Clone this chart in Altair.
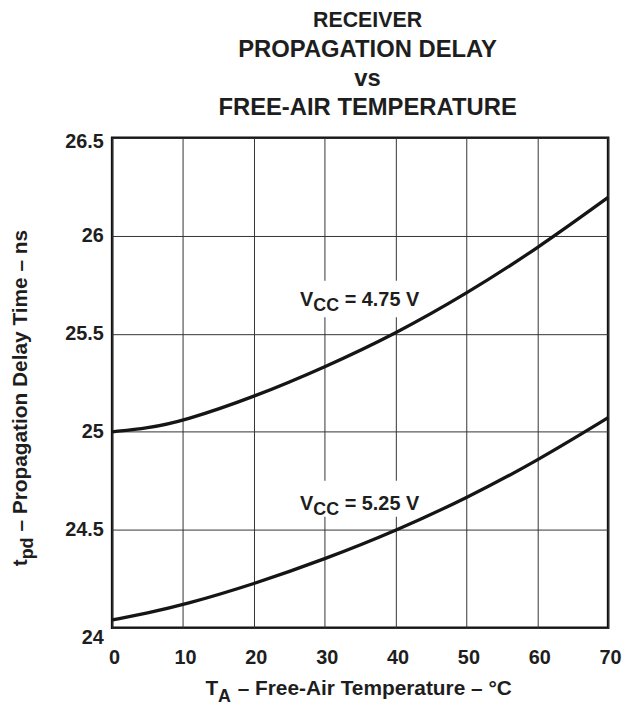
import altair as alt
import pandas as pd

# ---- data ----
temps = [0, 5, 10, 20, 30, 40, 50, 60, 70]
delay_475 = [25.00, 25.018, 25.054, 25.177, 25.329, 25.50, 25.704, 25.935, 26.196]
delay_525 = [24.04, 24.076, 24.116, 24.223, 24.35, 24.494, 24.661, 24.852, 25.072]
series_names = ["4.75", "5.25"]

x_ticks = [0, 10, 20, 30, 40, 50, 60, 70]
y_ticks = [24, 24.5, 25, 25.5, 26, 26.5]

# annotation anchors (data units)
ann_x = [26.5, 26.5]
ann_y = [25.64, 24.602]
box_x1 = [25.6, 25.6]
box_x2 = [44.7, 44.7]
box_y1 = [25.584, 24.567]
box_y2 = [25.77, 24.75]

rows = []
for t, a, b in zip(temps, delay_475, delay_525):
    rows.append({"temp": t, "delay": a, "vcc": series_names[0]})
    rows.append({"temp": t, "delay": b, "vcc": series_names[1]})
df = pd.DataFrame(rows)

ann = pd.DataFrame({"x": ann_x, "y": ann_y, "vcc": series_names,
                    "x1": box_x1, "x2": box_x2, "y1": box_y1, "y2": box_y2})
ann["rest"] = "= " + ann["vcc"] + " V"

FONT = "Liberation Sans"
TXT = "#1e1e1e"
F_TICK = 20
F_AX = 21
F_SUB = 18
F_ANN = 20
F_ANN_SUB = 18

xs = alt.Scale(domain=[0, 70], nice=False, zero=False)
ys = alt.Scale(domain=[24, 26.5], nice=False, zero=False)

x_axis = alt.Axis(values=x_ticks, title=None, grid=True, ticks=False, domain=False,
                  labelFont=FONT, labelFontSize=F_TICK, labelFontWeight="bold",
                  labelColor=TXT, labelPadding=20, labelFlush=False, labelOffset=2,
                  gridColor="#333333", gridWidth=1, gridOpacity=1)
y_axis = alt.Axis(values=y_ticks, title=None, grid=True, ticks=False, domain=False,
                  labelFont=FONT, labelFontSize=F_TICK, labelFontWeight="bold",
                  labelColor=TXT, labelPadding=9,
                  labelExpr="toString(datum.value)",
                  labelBaseline=alt.condition("datum.value == 24", alt.value("top"), alt.value("middle")),
                  labelOffset=alt.condition("datum.value == 26.5", alt.value(4), alt.value(0)),
                  gridColor="#333333", gridWidth=1, gridOpacity=1)

base = alt.Chart(df)

lines = base.mark_line(interpolate="basis", strokeWidth=3.3, color="#151515").encode(
    x=alt.X("temp:Q", scale=xs, axis=x_axis),
    y=alt.Y("delay:Q", scale=ys, axis=y_axis),
    detail="vcc:N",
)

annb = alt.Chart(ann)
boxes = annb.mark_rect(color="white").encode(
    x=alt.X("x1:Q", scale=xs), x2="x2:Q",
    y=alt.Y("y1:Q", scale=ys), y2="y2:Q",
)
t_v = annb.mark_text(text="V", align="left", baseline="alphabetic", font=FONT,
                     fontWeight="bold", fontSize=F_ANN, color=TXT).encode(
    x=alt.X("x:Q", scale=xs), y=alt.Y("y:Q", scale=ys))
t_cc = annb.mark_text(text="CC", align="left", baseline="alphabetic", font=FONT,
                      fontWeight="bold", fontSize=F_ANN_SUB, color=TXT, dx=13.5, dy=5).encode(
    x=alt.X("x:Q", scale=xs), y=alt.Y("y:Q", scale=ys))
t_rest = annb.mark_text(align="left", baseline="alphabetic", font=FONT,
                        fontWeight="bold", fontSize=F_ANN, color=TXT, dx=45.2).encode(
    x=alt.X("x:Q", scale=xs), y=alt.Y("y:Q", scale=ys), text="rest:N")

# axis titles with subscripts (pixel positions relative to plot area)
one = pd.DataFrame({"k": [0]})
oc = alt.Chart(one)
common = dict(font=FONT, fontWeight="bold", color=TXT, baseline="alphabetic", align="left")
xt1 = oc.mark_text(text="T", fontSize=F_AX, **common).encode(x=alt.value(94), y=alt.value(562))
xt2 = oc.mark_text(text="A", fontSize=F_SUB, **common).encode(x=alt.value(106.8), y=alt.value(569))
xt3 = oc.mark_text(text="\u2013 Free-Air Temperature \u2013 \u00b0C", fontSize=F_AX, **common).encode(
    x=alt.value(126.5), y=alt.value(562))
yt1 = oc.mark_text(text="t", fontSize=F_AX, angle=270, **common).encode(x=alt.value(-86), y=alt.value(432))
yt2 = oc.mark_text(text="pd", fontSize=F_SUB, angle=270, **common).encode(x=alt.value(-80), y=alt.value(425))
yt3 = oc.mark_text(text="\u2013 Propagation Delay Time \u2013 ns", fontSize=F_AX, angle=270, **common).encode(
    x=alt.value(-86), y=alt.value(397))

chart = alt.layer(boxes, lines, t_v, t_cc, t_rest, xt1, xt2, xt3, yt1, yt2, yt3).properties(
    width=500, height=494,
    autosize=alt.AutoSizeParams(type="none"),
    padding={"left": 105, "top": 128, "right": 15, "bottom": 76},
    title=alt.TitleParams(
        text="RECEIVER",
        subtitle=["PROPAGATION DELAY", "vs", "FREE-AIR TEMPERATURE"],
        font=FONT, fontSize=21.5, fontWeight="bold", color=TXT,
        subtitleFont=FONT, subtitleFontSize=24, subtitleFontWeight="bold",
        subtitleColor=TXT, subtitleLineHeight=29, subtitlePadding=7,
        anchor="middle", dx=7.5, offset=12,
    ),
).configure_view(stroke="#111111", strokeWidth=2.6)

chart.save("out.html", embed_options={"renderer": "svg", "actions": False})
